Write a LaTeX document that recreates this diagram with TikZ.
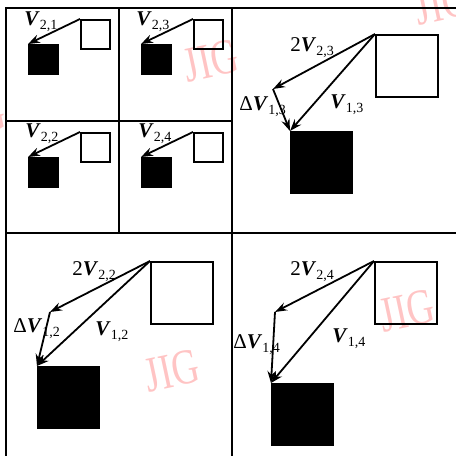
\documentclass[tikz,border=0pt]{standalone}
\usepackage{fontspec}
\setmainfont{Liberation Serif}
\usetikzlibrary{arrows.meta}
\definecolor{stamp}{HTML}{FFC4C4}
\newcommand{\vel}[1]{\textbf{\textit{V}}\raisebox{-0.45ex}{\fontsize{7}{7}\selectfont #1}}

\begin{document}
\begin{tikzpicture}[x=0.5pt, y=-0.5pt,
    frame/.style={line width=1pt},
    wbox/.style={draw, line width=1pt, minimum size=#1, inner sep=0pt, anchor=north west},
    bbox/.style={fill=black, minimum size=#1, inner sep=0pt, anchor=north west},
    vec/.style={-{Stealth[length=6pt, width=4.2pt, inset=2pt]}, line width=0.9pt},
    lbl/.style={inner sep=0pt, anchor=base west, font=\fontsize{10.5}{11}\selectfont},
    mark stamp/.style={text=stamp, rotate=12, inner sep=0pt, font=\fontsize{25}{25}\selectfont}
]
    \useasboundingbox (0,0) rectangle (456,456);

    % Watermarks
    \node[mark stamp] (wm1) at (211,61) {\scalebox{0.75}[1]{JIG}};
    \node[mark stamp] (wm2) at (172,371) {\scalebox{0.75}[1]{JIG}};
    \node[mark stamp] (wm3) at (407,311) {\scalebox{0.75}[1]{JIG}};
    \node[mark stamp] (wm4) at (442,4) {\scalebox{0.75}[1]{JIG}};
    \node[mark stamp] (wm5) at (-22,118) {\scalebox{0.75}[1]{JIG}};

    % Frame
    \draw[frame] (6,456) -- (6,8) -- (456,8);
    \draw[frame] (232,8) -- (232,456);
    \draw[frame] (6,233) -- (456,233);
    \draw[frame] (119,8) -- (119,233);
    \draw[frame] (6,121) -- (232,121);

    % Small cells
    \node[wbox=14.5pt] (w21) at (80,19) {};
    \node[bbox=15.5pt] (b21) at (28,44) {};
    \draw[vec] (w21.north west) -- (b21.north west);
    \node[lbl] (l21) at (24,25) {\vel{2,1}};

    \node[wbox=14.5pt] (w23) at (193,19) {};
    \node[bbox=15.5pt] (b23) at (141,44) {};
    \draw[vec] (w23.north west) -- (b23.north west);
    \node[lbl] (l23) at (136,25) {\vel{2,3}};

    \node[wbox=14.5pt] (w22) at (80,132) {};
    \node[bbox=15.5pt] (b22) at (28,157) {};
    \draw[vec] (w22.north west) -- (b22.north west);
    \node[lbl] (l22) at (25,137) {\vel{2,2}};

    \node[wbox=14.5pt] (w24) at (193,132) {};
    \node[bbox=15.5pt] (b24) at (141,157) {};
    \draw[vec] (w24.north west) -- (b24.north west);
    \node[lbl] (l24) at (138,137) {\vel{2,4}};

    % Large cell, top right
    \node[wbox=31pt] (wa) at (375,34) {};
    \node[bbox=31.5pt] (ba) at (290,131) {};
    \coordinate (ma) at (273,89);
    \draw[vec] (wa.north west) -- (ma);
    \draw[vec] (ma) -- (ba.north west);
    \draw[vec] (wa.north west) -- (ba.north west);
    \node[lbl] (la1) at (290,51) {2\vel{2,3}};
    \node[lbl] (la2) at (239,110) {Δ\vel{1,3}};
    \node[lbl] (la3) at (330,108) {\vel{1,3}};

    % Large cell, bottom left
    \node[wbox=31pt] (wb) at (150,261) {};
    \node[bbox=31.5pt] (bb) at (37,366) {};
    \coordinate (mb) at (50,312);
    \draw[vec] (wb.north west) -- (mb);
    \draw[vec] (mb) -- (bb.north west);
    \draw[vec] (wb.north west) -- (bb.north west);
    \node[lbl] (lb1) at (72,275) {2\vel{2,2}};
    \node[lbl] (lb2) at (13,332) {Δ\vel{1,2}};
    \node[lbl] (lb3) at (95,335) {\vel{1,2}};

    % Large cell, bottom right
    \node[wbox=31pt] (wc) at (374,261) {};
    \node[bbox=31.5pt] (bc) at (271,383) {};
    \coordinate (mc) at (275,312);
    \draw[vec] (wc.north west) -- (mc);
    \draw[vec] (mc) -- (bc.north west);
    \draw[vec] (wc.north west) -- (bc.north west);
    \node[lbl] (lc1) at (290,275) {2\vel{2,4}};
    \node[lbl] (lc2) at (233,348) {Δ\vel{1,4}};
    \node[lbl] (lc3) at (332,342) {\vel{1,4}};
\end{tikzpicture}
\end{document}
